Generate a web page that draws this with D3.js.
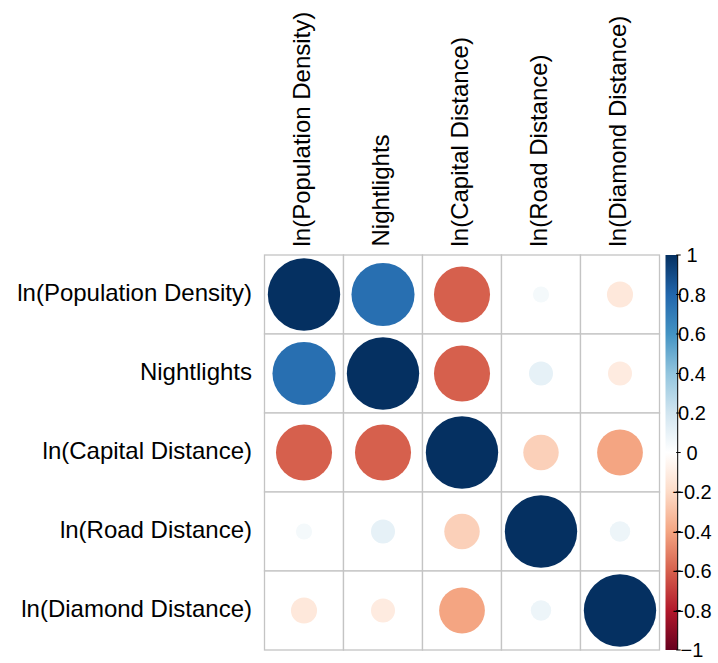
<!DOCTYPE html>
<html>
<head>
<meta charset="utf-8">
<script src="https://cdn.jsdelivr.net/npm/d3@7"></script>
<style>
  html, body { margin: 0; padding: 0; background: #ffffff; }
  svg { display: block; font-family: "Liberation Sans", Arial, Helvetica, sans-serif; }
</style>
</head>
<body>
<svg id="chart" width="718" height="663"></svg>
<script>
// ---- data ----
const variables = ["ln(Population Density)", "Nightlights", "ln(Capital Distance)", "ln(Road Distance)", "ln(Diamond Distance)"];
const rowPopulation = [1.00, 0.76, -0.60, 0.05, -0.13];
const rowNightlights = [0.76, 1.00, -0.60, 0.11, -0.11];
const rowCapital = [-0.60, -0.60, 1.00, -0.24, -0.40];
const rowRoad = [0.05, 0.11, -0.24, 1.00, 0.08];
const rowDiamond = [-0.13, -0.11, -0.40, 0.08, 1.00];
const legendTicks = [1, 0.8, 0.6, 0.4, 0.2, 0, -0.2, -0.4, -0.6, -0.8, -1];
const legendLabels = ["1", "0.8", "0.6", "0.4", "0.2", "0", "\u22120.2", "\u22120.4", "\u22120.6", "\u22120.8", "\u22121"];
const paletteStops = [-1, -0.8, -0.6, -0.4, -0.2, 0, 0.2, 0.4, 0.6, 0.8, 1];
const paletteColors = ["#67001F", "#B2182B", "#D6604D", "#F4A582", "#FDDBC7", "#FFFFFF", "#D1E5F0", "#92C5DE", "#4393C3", "#2166AC", "#053061"];

const matrix = [rowPopulation, rowNightlights, rowCapital, rowRoad, rowDiamond];
const cells = [];
matrix.forEach((row, i) => row.forEach((v, j) => cells.push({ row: variables[i], col: variables[j], value: v })));

// ---- layout ----
const svg = d3.select("#chart");
const gridLeft = 264.5, gridTop = 255, gridSize = 395;

const x = d3.scaleBand().domain(variables).range([gridLeft, gridLeft + gridSize]);
const y = d3.scaleBand().domain(variables).range([gridTop, gridTop + gridSize]);
const color = d3.scaleLinear().domain(paletteStops).range(paletteColors).interpolate(d3.interpolateRgb).clamp(true);
const radius = d3.scaleSqrt().domain([0, 1]).range([0, x.bandwidth() * 0.458]);

// grid cells
svg.append("g").selectAll("rect")
  .data(cells).join("rect")
  .attr("x", d => x(d.col))
  .attr("y", d => y(d.row))
  .attr("width", x.bandwidth())
  .attr("height", y.bandwidth())
  .attr("fill", "#ffffff")
  .attr("stroke", "#C4C4C4")
  .attr("stroke-width", 1.3);

// circles
svg.append("g").selectAll("circle")
  .data(cells).join("circle")
  .attr("cx", d => x(d.col) + x.bandwidth() / 2)
  .attr("cy", d => y(d.row) + y.bandwidth() / 2)
  .attr("r", d => radius(Math.abs(d.value)))
  .attr("fill", d => color(d.value));

// row labels
svg.append("g").selectAll("text")
  .data(variables).join("text")
  .attr("x", gridLeft - 12.5)
  .attr("y", d => y(d) + y.bandwidth() / 2 + 6.5)
  .attr("text-anchor", "end")
  .attr("font-size", 24)
  .attr("fill", "#000")
  .text(d => d);

// column labels
svg.append("g").selectAll("text")
  .data(variables).join("text")
  .attr("transform", d => `translate(${x(d) + x.bandwidth() / 2 + 6},${gridTop - 8.5}) rotate(-90)`)
  .attr("text-anchor", "start")
  .attr("font-size", 24)
  .attr("fill", "#000")
  .text(d => d);

// ---- colour legend ----
const barLeft = 665.5, barRight = 677.7;
const ly = d3.scaleLinear().domain([-1, 1]).range([gridTop + gridSize, gridTop]);

const defs = svg.append("defs");
const grad = defs.append("linearGradient")
  .attr("id", "legendGrad")
  .attr("x1", 0).attr("y1", 1).attr("x2", 0).attr("y2", 0);
grad.selectAll("stop")
  .data(paletteStops).join("stop")
  .attr("offset", d => (d + 1) / 2)
  .attr("stop-color", d => color(d));

svg.append("rect")
  .attr("x", barLeft)
  .attr("y", ly(1))
  .attr("width", barRight - barLeft)
  .attr("height", ly(-1) - ly(1))
  .attr("fill", "url(#legendGrad)");

svg.append("line")
  .attr("x1", barRight).attr("x2", barRight)
  .attr("y1", ly(1)).attr("y2", ly(-1))
  .attr("stroke", "#000").attr("stroke-width", 1);

const lg = svg.append("g");
lg.selectAll("line.tick")
  .data(legendTicks).join("line")
  .attr("class", "tick")
  .attr("x1", barRight - 1.5).attr("x2", barRight + 3)
  .attr("y1", d => ly(d)).attr("y2", d => ly(d))
  .attr("stroke", "#000").attr("stroke-width", 1);

lg.selectAll("text")
  .data(legendTicks).join("text")
  .attr("x", 692)
  .attr("y", d => ly(d) + 7)
  .attr("text-anchor", "middle")
  .attr("font-size", 20)
  .attr("fill", "#000")
  .text((d, i) => legendLabels[i]);
</script>
</body>
</html>
